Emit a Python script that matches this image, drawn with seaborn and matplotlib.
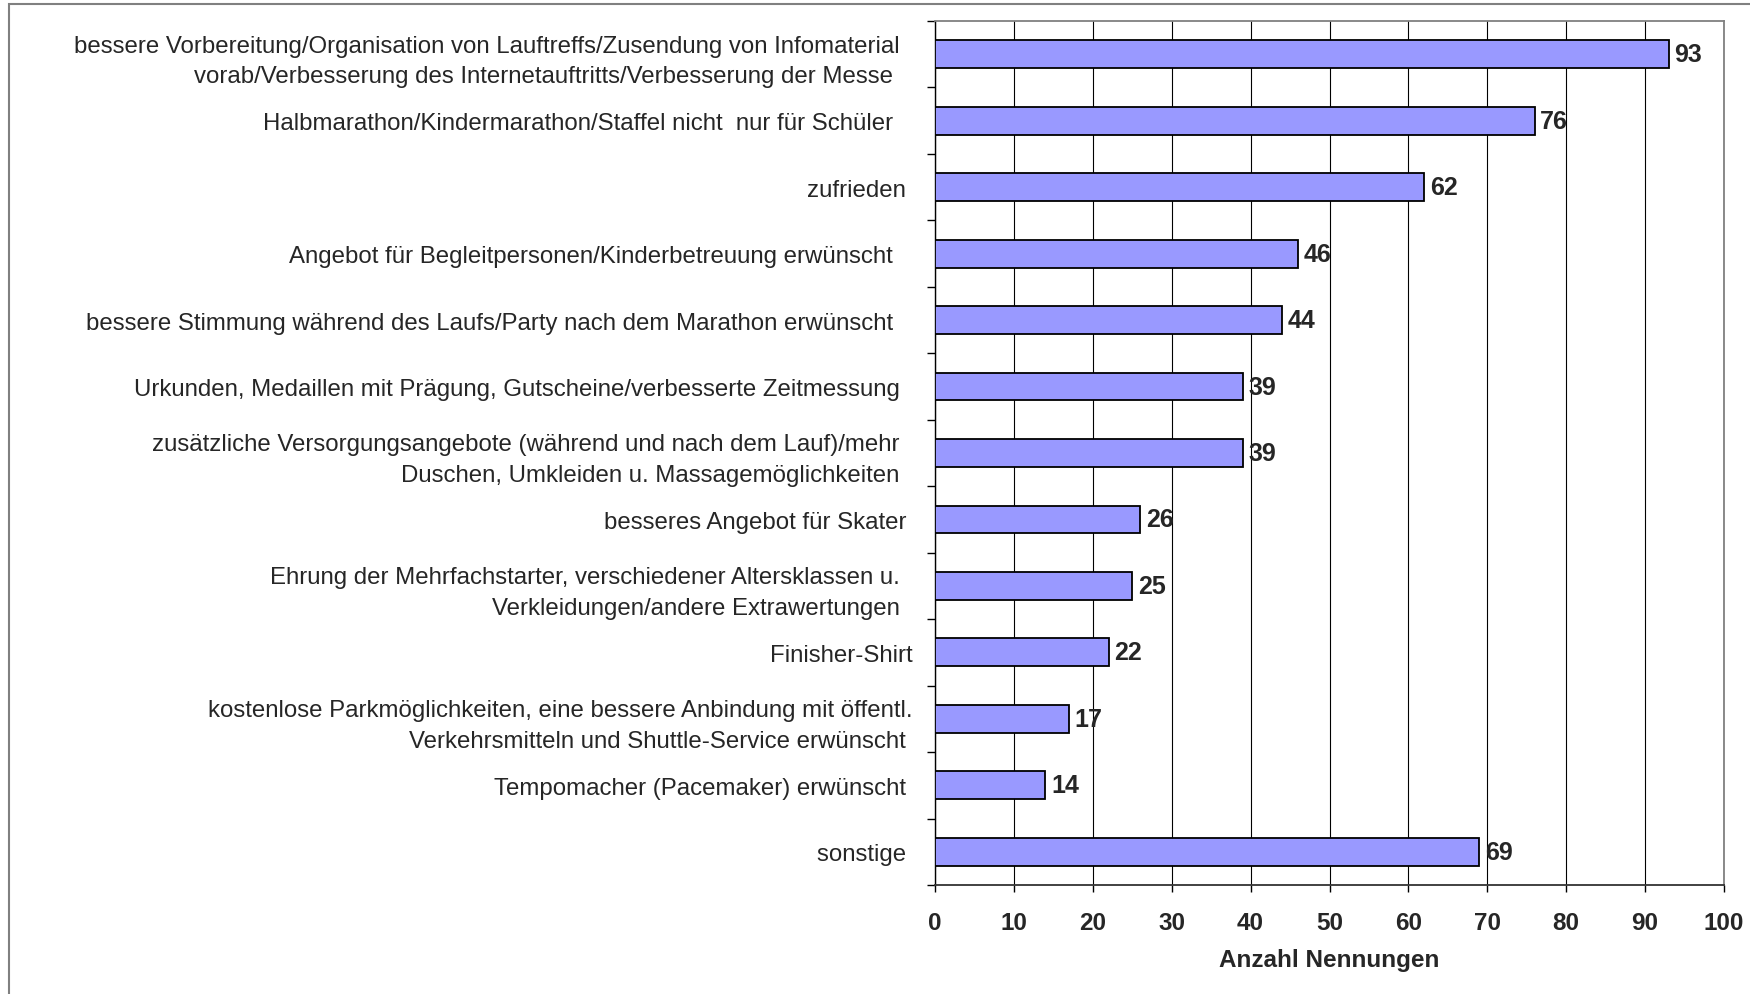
import matplotlib
matplotlib.use("Agg")
import matplotlib.pyplot as plt
import matplotlib.patches as mpatches
import seaborn as sns
import pandas as pd
import numpy as np

categories = [
    "bessere Vorbereitung/Organisation von Lauftreffs/Zusendung von Infomaterial  \nvorab/Verbesserung des Internetauftritts/Verbesserung der Messe   ",
    "Halbmarathon/Kindermarathon/Staffel nicht  nur für Schüler   ",
    "zufrieden ",
    "Angebot für Begleitpersonen/Kinderbetreuung erwünscht   ",
    "bessere Stimmung während des Laufs/Party nach dem Marathon erwünscht   ",
    "Urkunden, Medaillen mit Prägung, Gutscheine/verbesserte Zeitmessung  ",
    "zusätzliche Versorgungsangebote (während und nach dem Lauf)/mehr  \nDuschen, Umkleiden u. Massagemöglichkeiten  ",
    "besseres Angebot für Skater ",
    "Ehrung der Mehrfachstarter, verschiedener Altersklassen u.  \nVerkleidungen/andere Extrawertungen  ",
    "Finisher-Shirt",
    "kostenlose Parkmöglichkeiten, eine bessere Anbindung mit öffentl.\nVerkehrsmitteln und Shuttle-Service erwünscht ",
    "Tempomacher (Pacemaker) erwünscht ",
    "sonstige ",
]
values = [93, 76, 62, 46, 44, 39, 39, 26, 25, 22, 17, 14, 69]
x_ticks = [0, 10, 20, 30, 40, 50, 60, 70, 80, 90, 100]
x_label = "Anzahl Nennungen"

sns.set_style("white")
plt.rcParams["font.family"] = ["Liberation Sans", "DejaVu Sans"]

W, H = 1750, 995
fig = plt.figure(figsize=(W / 100, H / 100), dpi=100)
ax = fig.add_axes([935 / W, 1 - 886 / H, (1724 - 935) / W, (886 - 22) / H])

df = pd.DataFrame({"cat": categories, "val": values})
sns.barplot(data=df, x="val", y="cat", orient="h", color="#9999FF",
            saturation=1, edgecolor="black", linewidth=1.3, width=0.42, ax=ax, zorder=3)

ax.set_xlim(0, 100)
ax.set_ylim(len(categories) - 0.5, -0.5)
ax.set_xticks(x_ticks)
ax.set_xticklabels([str(t) for t in x_ticks], fontsize=17.5, fontweight="bold")
ax.set_xlabel(x_label, fontsize=17.5, fontweight="bold", labelpad=10)
ax.set_ylabel("")

ax.set_yticks(range(len(categories)))
ax.set_yticklabels(categories, fontsize=17.3, linespacing=1.5)
for lbl in ax.get_yticklabels():
    lbl.set_multialignment("right")
ax.set_yticks(np.arange(-0.5, len(categories), 1.0), minor=True)
ax.tick_params(axis="y", which="major", length=0, pad=16)
ax.tick_params(axis="y", which="minor", left=True, length=6, width=1, color="black")
ax.tick_params(axis="x", which="major", bottom=True, length=5, width=1,
               color="black", pad=14)

ax.grid(axis="x", color="black", linewidth=0.8, zorder=0)
ax.grid(axis="y", visible=False)
ax.set_axisbelow(True)

for side in ["top", "right"]:
    ax.spines[side].set_color("#808080")
    ax.spines[side].set_linewidth(1.3)
ax.spines["left"].set_color("black")
ax.spines["left"].set_linewidth(1.0)
ax.spines["bottom"].set_color("#333333")
ax.spines["bottom"].set_linewidth(1.3)

for cont in ax.containers:
    ax.bar_label(cont, labels=[str(v) for v in values], padding=4,
                 fontsize=18, fontweight="bold")

border = mpatches.Rectangle((9 / W, -0.1), 1.2, 1.1 - 5 / H,
                            transform=fig.transFigure, fill=False,
                            edgecolor="#808080", linewidth=1.5, clip_on=False)
fig.patches.append(border)

fig.savefig("out.png", dpi=100)
